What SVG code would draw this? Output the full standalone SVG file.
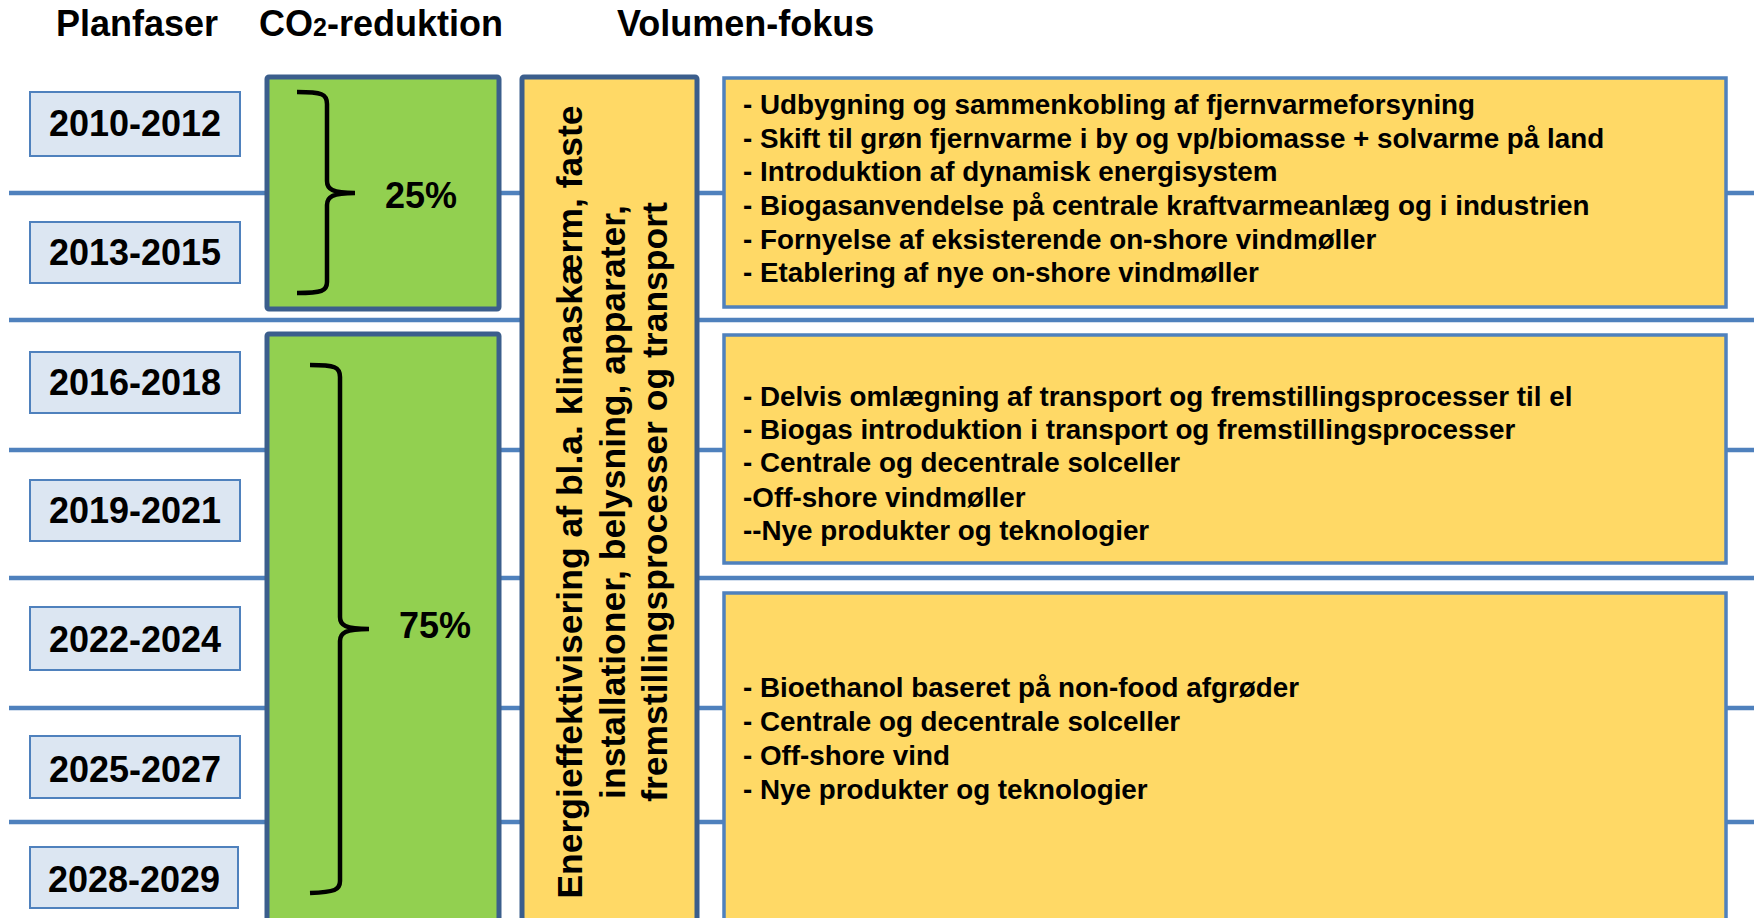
<svg xmlns="http://www.w3.org/2000/svg" width="1754" height="918" viewBox="0 0 1754 918">
<style>
text{font-family:"Liberation Sans",Arial,sans-serif;font-weight:bold;fill:#000}
.hdr{font-size:36px}
.date{font-size:36px;text-anchor:middle}
.pct{font-size:36px}
.vt{font-size:35.5px;text-anchor:middle}
.item{font-size:27.8px}
.datebox{fill:#DCE6F2;stroke:#4F81BD;stroke-width:2}
.green{fill:#92D050;stroke:#3B5E8C;stroke-width:5}
.vbox{fill:#FFD966;stroke:#3B5E8C;stroke-width:5}
.ybox{fill:#FFD966;stroke:#4F81BD;stroke-width:3.5}
.grid{stroke:#4F81BD;stroke-width:4.5;fill:none}
.brace{fill:none;stroke:#000;stroke-width:4.5;stroke-linecap:butt}
</style>
<rect width="1754" height="918" fill="#fff"/>
<g id="connectors">
<line class="grid" x1="9" y1="193" x2="1754" y2="193"/>
<line class="grid" x1="9" y1="320" x2="1754" y2="320"/>
<line class="grid" x1="9" y1="450" x2="1754" y2="450"/>
<line class="grid" x1="9" y1="578" x2="1754" y2="578"/>
<line class="grid" x1="9" y1="708" x2="1754" y2="708"/>
<line class="grid" x1="9" y1="822" x2="1754" y2="822"/>
</g>
<g id="headers">
<text class="hdr" x="56" y="36">Planfaser</text>
<text class="hdr" x="259" y="36">CO<tspan font-size="25">2</tspan>-reduktion</text>
<text class="hdr" x="617" y="36">Volumen-fokus</text>
</g>
<g id="phase-2010-2012"><rect class="datebox" x="30" y="92" width="210" height="64"/><text class="date" x="135" y="136">2010-2012</text></g>
<g id="phase-2013-2015"><rect class="datebox" x="30" y="222" width="210" height="61"/><text class="date" x="135" y="265">2013-2015</text></g>
<g id="phase-2016-2018"><rect class="datebox" x="30" y="352" width="210" height="61"/><text class="date" x="135" y="395">2016-2018</text></g>
<g id="phase-2019-2021"><rect class="datebox" x="30" y="480" width="210" height="61"/><text class="date" x="135" y="523">2019-2021</text></g>
<g id="phase-2022-2024"><rect class="datebox" x="30" y="607" width="210" height="63"/><text class="date" x="135" y="652">2022-2024</text></g>
<g id="phase-2025-2027"><rect class="datebox" x="30" y="736" width="210" height="62"/><text class="date" x="135" y="782">2025-2027</text></g>
<g id="phase-2028-2029"><rect class="datebox" x="30" y="847" width="208" height="61"/><text class="date" x="134" y="892">2028-2029</text></g>
<g id="co2-25">
<rect class="green" x="267" y="77" width="232" height="232" rx="2"/>
<path class="brace" d="M297,92 C322,92 327,94 327,104 L327,181 C327,189 332,193 355,193 C332,193 327,197 327,205 L327,282 C327,291 322,293 297,293"/>
<text class="pct" x="385" y="208">25%</text>
</g>
<g id="co2-75">
<rect class="green" x="267" y="334" width="232" height="600" rx="2"/>
<path class="brace" d="M310,365 C335,365 340,367 340,377 L340,617 C340,625 345,629 369,629 C345,629 340,633 340,641 L340,881 C340,890 335,892 310,893"/>
<text class="pct" x="399" y="638">75%</text>
</g>
<g id="energy-efficiency">
<rect class="vbox" x="522" y="77" width="175" height="860" rx="2"/>
<g transform="translate(0,502) rotate(-90)">
<text class="vt" x="0" y="582">Energieffektivisering af bl.a. klimaskærm, faste</text>
<text class="vt" x="0" y="625">installationer, belysning, apparater,</text>
<text class="vt" x="0" y="667">fremstillingsprocesser og transport</text>
</g>
</g>
<g id="focus-1">
<rect class="ybox" x="724" y="78" width="1002" height="229"/>
<text class="item" x="743" y="114">- Udbygning og sammenkobling af fjernvarmeforsyning</text>
<text class="item" x="743" y="148">- Skift til grøn fjernvarme i by og vp/biomasse + solvarme på land</text>
<text class="item" x="743" y="181">- Introduktion af dynamisk energisystem</text>
<text class="item" x="743" y="215">- Biogasanvendelse på centrale kraftvarmeanlæg og i industrien</text>
<text class="item" x="743" y="249">- Fornyelse af eksisterende on-shore vindmøller</text>
<text class="item" x="743" y="282">- Etablering af nye on-shore vindmøller</text>
</g>
<g id="focus-2">
<rect class="ybox" x="724" y="335" width="1002" height="228"/>
<text class="item" x="743" y="406">- Delvis omlægning af transport og fremstillingsprocesser til el</text>
<text class="item" x="743" y="439">- Biogas introduktion i transport og fremstillingsprocesser</text>
<text class="item" x="743" y="472">- Centrale og decentrale solceller</text>
<text class="item" x="743" y="507">-Off-shore vindmøller</text>
<text class="item" x="743" y="540">--Nye produkter og teknologier</text>
</g>
<g id="focus-3">
<rect class="ybox" x="724" y="593" width="1002" height="340"/>
<text class="item" x="743" y="697">- Bioethanol baseret på non-food afgrøder</text>
<text class="item" x="743" y="731">- Centrale og decentrale solceller</text>
<text class="item" x="743" y="765">- Off-shore vind</text>
<text class="item" x="743" y="799">- Nye produkter og teknologier</text>
</g>
</svg>
